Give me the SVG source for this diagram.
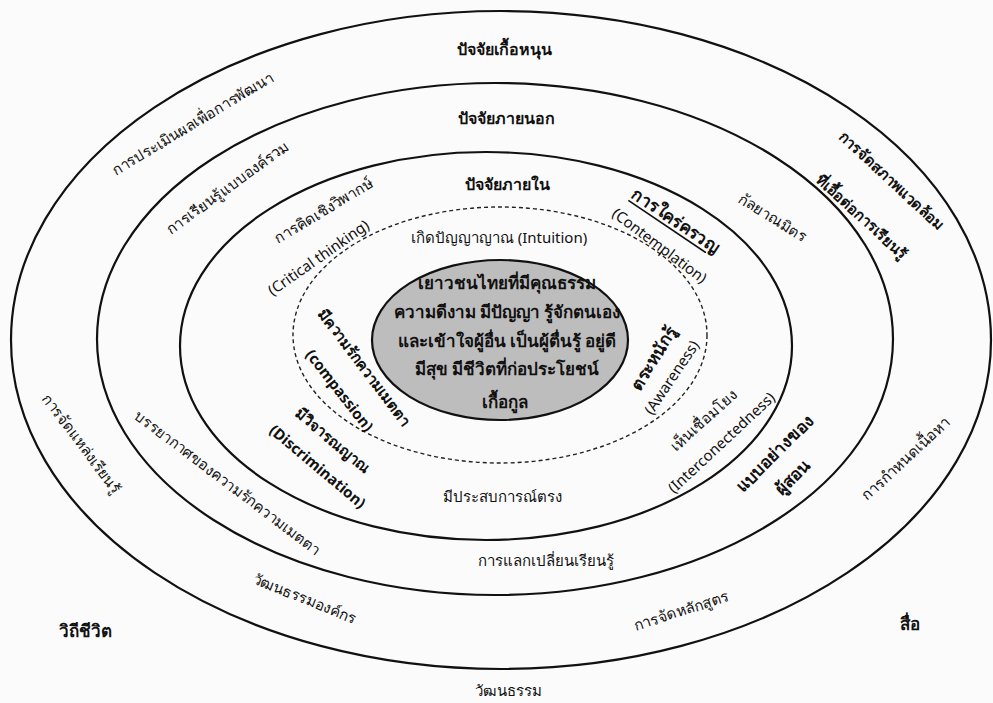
<svg xmlns="http://www.w3.org/2000/svg" width="993" height="703" viewBox="0 0 993 703">
<style>
.ring{fill:none;stroke:#111;stroke-width:2.2}
.dash{fill:none;stroke:#222;stroke-width:1.4;stroke-dasharray:4 3}
text{font-family:"Noto Sans","DejaVu Sans",sans-serif;fill:#111;text-anchor:middle;dominant-baseline:central}
.t{font-size:15px}
.b{font-size:15px;font-weight:bold}
.bb{font-size:17px;font-weight:bold}
.h{font-size:16px;font-weight:bold}
.c{font-size:17px;font-weight:bold}
</style>
<rect width="993" height="703" fill="#fbfbfb"/>
<g id="ring-outer"><ellipse class="ring" cx="501" cy="340" rx="490" ry="329"/></g>
<g id="ring-external"><ellipse class="ring" cx="495" cy="339" rx="398" ry="256"/></g>
<g id="ring-internal"><ellipse class="ring" cx="486" cy="346" rx="306" ry="194"/></g>
<g id="ring-intuition"><ellipse class="dash" cx="500" cy="335" rx="207" ry="128"/></g>
<g id="core">
<ellipse cx="500" cy="340" rx="128" ry="80" fill="#bdbdbd" stroke="#111" stroke-width="2.2"/>
<text class="c" x="507" y="282">เยาวชนไทยที่มีคุณธรรม</text>
<text class="c" x="507" y="311">ความดีงาม มีปัญญา รู้จักตนเอง</text>
<text class="c" x="507" y="340">และเข้าใจผู้อื่น เป็นผู้ตื่นรู้ อยู่ดี</text>
<text class="c" x="507" y="368">มีสุข มีชีวิตที่ก่อประโยชน์</text>
<text class="c" x="505" y="401">เกื้อกูล</text>
</g>
<g id="labels-outer">
<text class="h" x="504" y="49">ปัจจัยเกื้อหนุน</text>
<text class="t" transform="translate(192,123) rotate(-31)">การประเมินผลเพื่อการพัฒนา</text>
<text class="t" transform="translate(82,443) rotate(53)">การจัดแหล่งเรียนรู้</text>
<text class="t" transform="translate(305,598) rotate(22)">วัฒนธรรมองค์กร</text>
<text class="bb" x="85" y="630">วิถีชีวิต</text>
<text class="t" x="508" y="690">วัฒนธรรม</text>
<text class="t" transform="translate(681,610) rotate(-18)">การจัดหลักสูตร</text>
<text class="bb" x="910" y="623">สื่อ</text>
<text class="t" transform="translate(905,458) rotate(-43)">การกำหนดเนื้อหา</text>
<text class="b" transform="translate(892,180) rotate(43)">การจัดสภาพแวดล้อม</text>
<text class="b" transform="translate(862,216) rotate(42)">ที่เอื้อต่อการเรียนรู้</text>
</g>
<g id="labels-external">
<text class="h" x="506" y="118">ปัจจัยภายนอก</text>
<text class="t" transform="translate(227,187) rotate(-36)">การเรียนรู้แบบองค์รวม</text>
<text class="t" transform="translate(228,482) rotate(37)">บรรยากาศของความรักความเมตตา</text>
<text class="t" x="546" y="560">การแลกเปลี่ยนเรียนรู้</text>
<text class="bb" transform="translate(774,453) rotate(-45)">แบบอย่างของ</text>
<text class="bb" transform="translate(792,477) rotate(-45)">ผู้สอน</text>
<text class="t" transform="translate(773,217) rotate(32)">กัลยาณมิตร</text>
</g>
<g id="labels-internal">
<text class="h" x="507" y="184">ปัจจัยภายใน</text>
<text class="t" transform="translate(323,210) rotate(-31)">การคิดเชิงวิพากษ์</text>
<text class="t" transform="translate(318,257) rotate(-35)">(Critical thinking)</text>
<text class="b" transform="translate(333,440) rotate(40)">มีวิจารณญาณ</text>
<text class="b" transform="translate(318,466) rotate(40)">(Discrimination)</text>
<text class="t" x="502" y="496">มีประสบการณ์ตรง</text>
<text class="t" transform="translate(703,420) rotate(-42)">เห็นเชื่อมโยง</text>
<text class="t" transform="translate(721,442) rotate(-43)">(Interconectedness)</text>
<text class="bb" transform="translate(676,220) rotate(34)" text-decoration="underline">การใคร่ครวญ</text>
<text class="t" transform="translate(660,245) rotate(37)">(Contemplation)</text>
</g>
<g id="labels-intuition">
<text class="t" x="499" y="237">เกิดปัญญาญาณ (Intuition)</text>
<text class="b" transform="translate(365,367) rotate(53)">มีความรักความเมตตา</text>
<text class="b" transform="translate(340,390) rotate(52)">(compassion)</text>
<text class="bb" transform="translate(653,358) rotate(-58)">ตระหนักรู้</text>
<text class="t" transform="translate(671,377) rotate(-56)">(Awareness)</text>
</g>
<g id="connectors"></g>
</svg>
